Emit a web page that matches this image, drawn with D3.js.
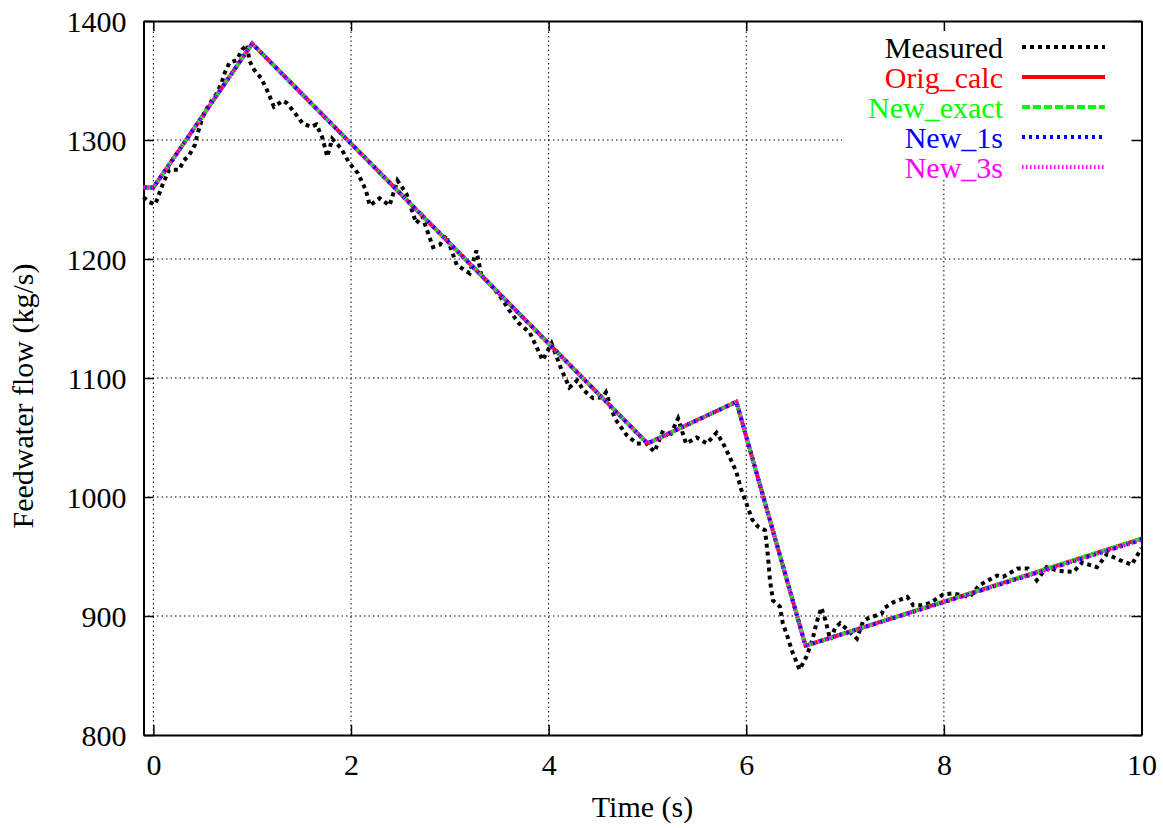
<!DOCTYPE html>
<html><head><meta charset="utf-8">
<script src="https://cdn.jsdelivr.net/npm/d3@7"></script>
<style>
html,body{margin:0;padding:0;background:#fff;}
svg{display:block;font-family:"Liberation Serif","Times New Roman",serif;}
</style></head>
<body>
<svg id="chart" width="1163" height="828"></svg>
<script>
// ---- data ----
const xTicks = [0, 2, 4, 6, 8, 10];
const yTicks = [800, 900, 1000, 1100, 1200, 1300, 1400];
const seriesNames = ["Measured", "Orig_calc", "New_exact", "New_1s", "New_3s"];
const seriesColors = ["#000000", "#ff0000", "#00ff00", "#0000ff", "#ff00ff"];

const calcTime  = [-0.1, 0.0, 1.0, 5.0, 5.9, 6.6, 10.0];
const origCalc  = [1260, 1260, 1381, 1045, 1080, 875, 965];
const newExact  = [1260, 1260, 1381, 1045, 1080, 875, 965];
const new1s     = [1260, 1260, 1381, 1045, 1080, 875, 964];
const new3s     = [1260, 1260, 1381, 1045, 1080, 875, 964];

const measTime = [-0.1,-0.05,0.02,0.06,0.1,0.16,0.26,0.31,0.36,0.42,0.45,0.49,0.53,0.59,0.64,0.69,0.72,0.77,0.84,0.9,0.95,0.97,1.02,1.09,1.15,1.22,1.31,1.35,1.43,1.51,1.6,1.65,1.71,1.76,1.81,1.9,1.98,2.07,2.15,2.19,2.29,2.39,2.47,2.56,2.66,2.72,2.83,2.9,2.96,3.01,3.07,3.2,3.27,3.32,3.44,3.54,3.6,3.7,3.81,3.94,4.03,4.13,4.21,4.29,4.35,4.45,4.55,4.58,4.67,4.79,4.89,4.99,5.07,5.16,5.22,5.31,5.39,5.5,5.6,5.7,5.76,5.83,5.9,5.95,6.0,6.06,6.12,6.19,6.22,6.24,6.27,6.34,6.37,6.42,6.47,6.54,6.61,6.67,6.71,6.76,6.8,6.85,6.9,6.95,7.03,7.12,7.18,7.23,7.37,7.4,7.5,7.63,7.69,7.78,7.86,7.99,8.09,8.26,8.36,8.54,8.6,8.75,8.85,8.94,9.04,9.15,9.31,9.4,9.55,9.65,9.78,9.9,10.0];
const measured = [1252,1248,1246,1255,1264,1275,1275,1283,1287,1296,1306,1317,1325,1333,1339,1348,1356,1365,1367,1376,1380,1367,1359,1352,1342,1328,1333,1331,1323,1314,1311,1313,1302,1286,1301,1293,1281,1272,1258,1245,1251,1245,1266,1255,1230,1236,1210,1212,1220,1209,1195,1188,1207,1186,1176,1165,1157,1146,1138,1115,1129,1107,1092,1098,1090,1083,1084,1088,1066,1052,1045,1045,1038,1056,1050,1066,1045,1050,1045,1054,1046,1034,1021,1006,995,981,975,972,950,930,913,908,894,882,869,855,866,880,894,907,897,880,890,894,888,881,895,898,902,907,912,916,909,909,911,918,919,916,926,934,933,940,940,930,941,938,937,945,941,952,947,943,957];

// ---- chart ----
const svg = d3.select("#chart");
const L = 143.5, R = 1141.5, T = 21, B = 735;
const x = d3.scaleLinear().domain([-0.1, 10]).range([L, R]);
const y = d3.scaleLinear().domain([800, 1400]).range([B, T]);
const FS = 30;

// grid
const grid = svg.append("g").attr("stroke", "#000").attr("stroke-width", 1).attr("stroke-dasharray", "1.5,3");
grid.selectAll("line.v").data(xTicks.filter(d => d > -0.1 && d < 10)).join("line")
  .attr("x1", d => x(d)).attr("x2", d => x(d)).attr("y1", B).attr("y2", T);
grid.selectAll("line.h").data(yTicks.filter(d => d > 800 && d < 1400)).join("line")
  .attr("x1", L).attr("x2", R).attr("y1", d => y(d)).attr("y2", d => y(d));

// legend background
svg.append("rect").attr("x", 842).attr("y", T + 1).attr("width", R - 843).attr("height", 157).attr("fill", "#fff");

// axes
function styleAxis(g) {
  g.selectAll("path.domain").attr("stroke", "#000").attr("stroke-width", 2);
  g.selectAll(".tick line").attr("stroke", "#000").attr("stroke-width", 1.5);
  g.selectAll("text").attr("font-size", FS).attr("fill", "#000").attr("font-family", "Liberation Serif, serif");
}
const gx = svg.append("g").attr("transform", `translate(0,${B})`)
  .call(d3.axisBottom(x).tickValues(xTicks).tickSizeInner(-10).tickSizeOuter(0).tickFormat(d3.format("d")));
gx.selectAll("text").attr("y", 40).attr("dy", null);
styleAxis(gx);
const gxt = svg.append("g").attr("transform", `translate(0,${T})`)
  .call(d3.axisTop(x).tickValues(xTicks).tickSizeInner(-10).tickSizeOuter(0).tickFormat(""));
styleAxis(gxt);
const gy = svg.append("g").attr("transform", `translate(${L},0)`)
  .call(d3.axisLeft(y).tickValues(yTicks).tickSizeInner(-10).tickSizeOuter(0).tickFormat(d3.format("d")));
gy.selectAll("text").attr("x", -17).attr("dy", "0.35em");
styleAxis(gy);
const gyr = svg.append("g").attr("transform", `translate(${R},0)`)
  .call(d3.axisRight(y).tickValues(yTicks).tickSizeInner(-10).tickSizeOuter(0).tickFormat(""));
styleAxis(gyr);

// titles
svg.append("text").attr("x", (L + R) / 2).attr("y", 817).attr("text-anchor", "middle")
  .attr("font-size", FS).text("Time (s)");
svg.append("text").attr("transform", "translate(33,396) rotate(-90)").attr("text-anchor", "middle")
  .attr("font-size", FS).text("Feedwater flow (kg/s)");

// lines
const styles = [
  {dash: "4,4", w: 4},
  {dash: null, w: 4},
  {dash: "8,3", w: 4},
  {dash: "3,4", w: 4},
  {dash: "1.5,2.5", w: 4}
];
const calcSeries = [origCalc, newExact, new1s, new3s];
const line = d3.line().x(d => x(d[0])).y(d => y(d[1]));
const gLines = svg.append("g").attr("fill", "none");
gLines.append("path").datum(measTime.map((t, i) => [t, measured[i]]))
  .attr("d", line).attr("stroke", seriesColors[0]).attr("stroke-width", styles[0].w).attr("stroke-dasharray", styles[0].dash);
calcSeries.forEach((s, k) => {
  gLines.append("path").datum(calcTime.map((t, i) => [t, s[i]]))
    .attr("d", line).attr("stroke", seriesColors[k + 1]).attr("stroke-width", styles[k + 1].w)
    .attr("stroke-dasharray", styles[k + 1].dash).attr("stroke-linejoin", "miter");
});

// legend
const leg = svg.append("g");
seriesNames.forEach((n, i) => {
  const cy = 47 + i * 30;
  leg.append("text").attr("x", 1003).attr("y", cy).attr("dy", "0.35em").attr("text-anchor", "end")
    .attr("font-size", FS).attr("fill", seriesColors[i]).text(n);
  leg.append("line").attr("x1", 1022).attr("x2", 1105).attr("y1", cy).attr("y2", cy)
    .attr("stroke", seriesColors[i]).attr("stroke-width", styles[i].w).attr("stroke-dasharray", styles[i].dash);
});
</script>
</body></html>
